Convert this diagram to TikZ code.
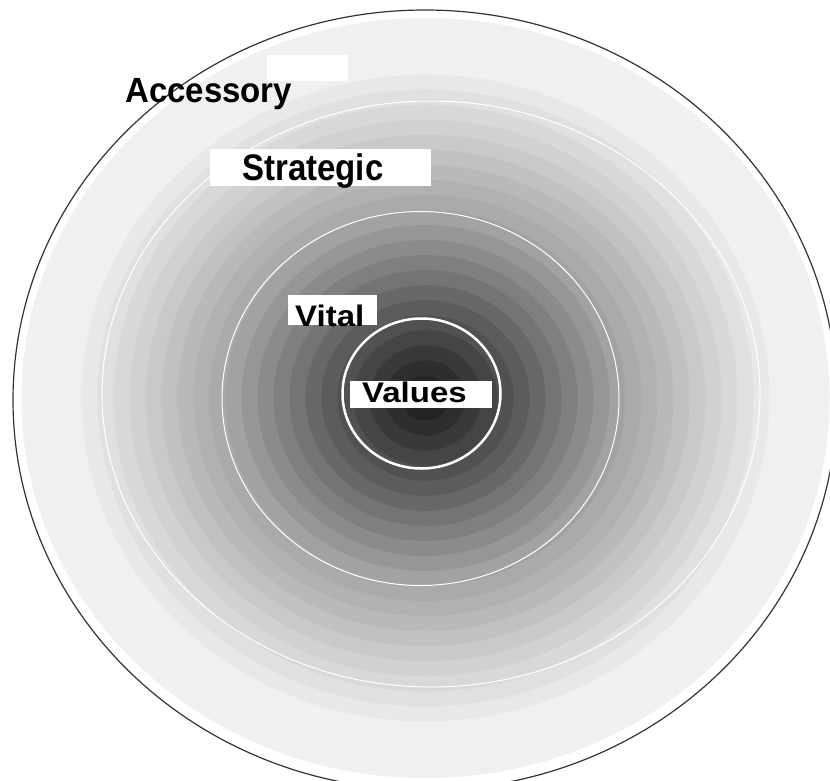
\documentclass[tikz,border=0pt]{standalone}
\usepackage{graphicx}
\usepackage{fontspec}
\setmainfont{Liberation Sans}
\begin{document}
\begin{tikzpicture}[x=1pt,y=-1pt,
  lbl/.style={inner sep=0pt, anchor=base west, text=black, font=\fontsize{33}{36}\selectfont\bfseries},
  whitebox/.style={fill=white, draw=none},
  ringline/.style={draw=white, line width=1pt}]
\useasboundingbox (0,0) rectangle (830,780);
\begin{scope}
\clip (0,0) rectangle (830,780);
\fill[white] (0,0) rectangle (830,780);
% lightest outer disc
\definecolor{lightest}{gray}{0.94}
\fill[lightest] (425.5,398) ellipse [x radius=404pt, y radius=380pt];
% stepped radial gradient
\foreach \k in {0,...,20}{
  \pgfmathsetmacro{\rrx}{344-16*\k}
  \pgfmathsetmacro{\rry}{0.94*\rrx}
  \pgfmathsetmacro{\gg}{max(0.14, \rrx>=200 ? 0.91-0.0019*(344-\rrx) : 0.636-0.00286*(200-\rrx))}
  \definecolor{ringc}{gray}{\gg}
  \fill[ringc] (425.5,398) ellipse [x radius=\rrx pt, y radius=\rry pt];
}
% white ring lines
\draw[ringline] (431,394) ellipse [x radius=329pt, y radius=293pt];
\draw[ringline] (420.5,398.5) ellipse [x radius=198.5pt, y radius=187pt];
\draw[draw=white, line width=2.5pt] (421.5,393.5) ellipse [x radius=79pt, y radius=75pt];
% outer outline
\draw[black!80, line width=1.2pt] (425,400) ellipse [x radius=412pt, y radius=390pt];
% label boxes
\fill[whitebox] (267,55) rectangle (348,81);
\fill[whitebox] (210,149) rectangle (431,186);
\fill[whitebox] (288,295) rectangle (377,325);
\fill[whitebox] (350,381) rectangle (492,408);
% labels
\node[lbl] (acc) at (125,102) {\scalebox{1}[1.06]{Accessory}};
\node[lbl] (str) at (242,180) {\scalebox{1}[1.12]{Strategic}};
\node[lbl] (vit) at (295,326) {\scalebox{1}[0.9]{Vital}};
\node[lbl] (val) at (362,402) {\scalebox{1}[0.86]{Values}};
\end{scope}
\end{tikzpicture}
\end{document}
